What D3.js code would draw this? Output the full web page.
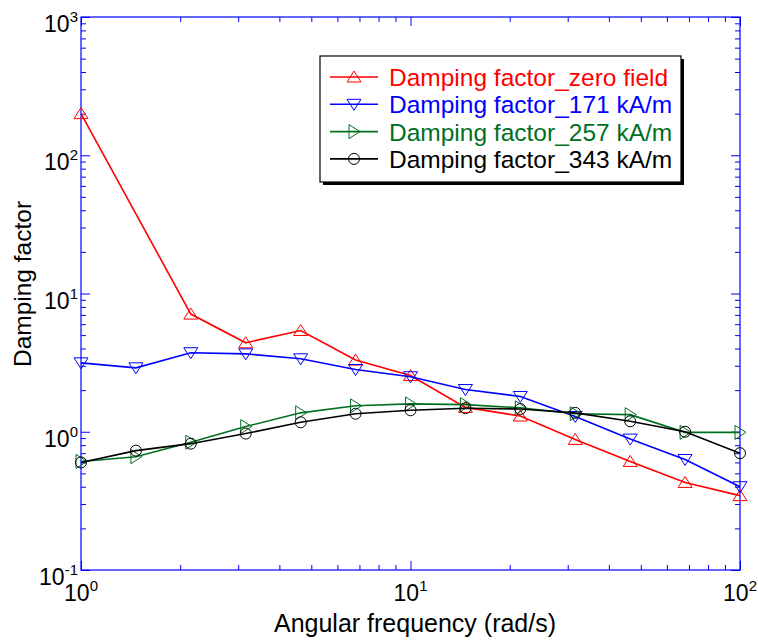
<!DOCTYPE html>
<html>
<head>
<meta charset="utf-8">
<script src="https://cdn.jsdelivr.net/npm/d3@7"></script>
<style>
  html, body { margin: 0; padding: 0; background: #fff; }
  svg { display: block; font-family: Arial, "Liberation Sans", sans-serif; }
</style>
</head>
<body>
<svg id="chart" width="758" height="641"></svg>
<script>
// Angular frequency (rad/s), six points per decade
const frequency = [1, 1.468, 2.154, 3.162, 4.642, 6.813, 10, 14.68, 21.54, 31.62, 46.42, 68.13, 100];

// Damping factor for each applied field
const damp171 = [3.15, 2.9, 3.73, 3.66, 3.37, 2.82, 2.5, 2.02, 1.8, 1.29, 0.885, 0.63, 0.40];
const damp257 = [0.61, 0.66, 0.84, 1.09, 1.37, 1.54, 1.59, 1.57, 1.49, 1.35, 1.33, 0.99, 0.99];
const damp343 = [0.60, 0.73, 0.82, 0.97, 1.17, 1.35, 1.43, 1.48, 1.46, 1.37, 1.19, 1.0, 0.70];

// zero-field series has no point at 1.468 rad/s
const zeroFreq = [1, 2.154, 3.162, 4.642, 6.813, 10, 14.68, 21.54, 31.62, 46.42, 68.13, 100];
const dampZero = [200, 7.1, 4.4, 5.4, 3.3, 2.55, 1.5, 1.3, 0.88, 0.61, 0.43, 0.345];

const seriesNames = [
  "Damping factor_zero field",
  "Damping factor_171 kA/m",
  "Damping factor_257 kA/m",
  "Damping factor_343 kA/m"
];
const seriesColors = ["#ff0000", "#0000ff", "#006f1f", "#000000"];
const seriesMarkers = ["triUp", "triDown", "triRight", "circle"];

const xMajor = [1, 10, 100];
const xMajorExp = ["0", "1", "2"];
const yMajor = [0.1, 1, 10, 100, 1000];
const yMajorExp = ["-1", "0", "1", "2", "3"];
const xLabel = "Angular frequency (rad/s)";
const yLabel = "Damping factor";

const series = [
  { xs: zeroFreq, ys: dampZero },
  { xs: frequency, ys: damp171 },
  { xs: frequency, ys: damp257 },
  { xs: frequency, ys: damp343 }
].map((s, i) => ({
  name: seriesNames[i], color: seriesColors[i], marker: seriesMarkers[i],
  points: s.xs.map((f, j) => ({ f, v: s.ys[j] }))
}));

const svg = d3.select("#chart");
const plotL = 81, plotR = 740, plotT = 17, plotB = 570;

const x = d3.scaleLog().domain([1, 100]).range([plotL, plotR]);
const y = d3.scaleLog().domain([0.1, 1000]).range([plotB, plotT]);

const axisColor = "#0000ff";

// minor ticks (2..9 within each decade)
function minors(domain) {
  const out = [];
  for (let e = Math.log10(domain[0]); e < Math.log10(domain[1]); e++) {
    for (let k = 2; k <= 9; k++) out.push(k * Math.pow(10, e));
  }
  return out;
}
const xMinor = minors([1, 100]);
const yMinor = minors([0.1, 1000]);

function drawAxis(gen, transform, vals, size) {
  const g = svg.append("g").attr("transform", transform)
    .call(gen.tickValues(vals).tickSizeInner(-size).tickSizeOuter(0).tickFormat(""));
  g.select(".domain").remove();
  g.selectAll("line").attr("stroke", axisColor).attr("stroke-width", 1);
  return g;
}

drawAxis(d3.axisBottom(x), `translate(0,${plotB})`, xMajor, 9);
drawAxis(d3.axisBottom(x), `translate(0,${plotB})`, xMinor, 5);
drawAxis(d3.axisTop(x), `translate(0,${plotT})`, xMajor, 9);
drawAxis(d3.axisTop(x), `translate(0,${plotT})`, xMinor, 5);
drawAxis(d3.axisLeft(y), `translate(${plotL},0)`, yMajor, 9);
drawAxis(d3.axisLeft(y), `translate(${plotL},0)`, yMinor, 5);
drawAxis(d3.axisRight(y), `translate(${plotR},0)`, yMajor, 9);
drawAxis(d3.axisRight(y), `translate(${plotR},0)`, yMinor, 5);

// plot box
svg.append("rect")
  .attr("x", plotL).attr("y", plotT)
  .attr("width", plotR - plotL).attr("height", plotB - plotT)
  .attr("fill", "none").attr("stroke", axisColor).attr("stroke-width", 1.2);

// tick labels with superscript exponents
const tickFont = 23, supFont = 15;
xMajor.forEach((v, i) => {
  const t = svg.append("text")
    .attr("x", x(v)).attr("y", plotB + 31)
    .attr("text-anchor", "middle")
    .attr("font-size", tickFont).attr("fill", "#000");
  t.append("tspan").text("10");
  t.append("tspan").attr("dy", -10).attr("font-size", supFont).text(xMajorExp[i]);
});
yMajor.forEach((v, i) => {
  const t = svg.append("text")
    .attr("x", plotL - 3).attr("y", y(v) + 15)
    .attr("text-anchor", "end")
    .attr("font-size", tickFont).attr("fill", "#000");
  t.append("tspan").text("10");
  t.append("tspan").attr("dy", -10).attr("font-size", supFont).text(yMajorExp[i]);
});

// axis titles
svg.append("text")
  .attr("x", 415).attr("y", 632)
  .attr("text-anchor", "middle").attr("font-size", 25)
  .text(xLabel);
svg.append("text")
  .attr("transform", `translate(31,284) rotate(-90)`)
  .attr("text-anchor", "middle").attr("font-size", 24.5)
  .text(yLabel);

// marker shapes
function markerPath(kind) {
  switch (kind) {
    case "triUp": return "M0,-6L7,5L-7,5Z";
    case "triDown": return "M0,6L7,-5L-7,-5Z";
    case "triRight": return "M6,0L-5,-7L-5,7Z";
    default: return null;
  }
}
function drawMarker(g, kind, color) {
  if (kind === "circle") {
    g.append("circle").attr("r", 5.5).attr("fill", "none")
      .attr("stroke", color).attr("stroke-width", 1);
  } else {
    g.append("path").attr("d", markerPath(kind)).attr("fill", "none")
      .attr("stroke", color).attr("stroke-width", 1);
  }
}

const line = d3.line().x(d => x(d.f)).y(d => y(d.v));

series.forEach(s => {
  svg.append("path")
    .datum(s.points)
    .attr("d", line)
    .attr("fill", "none")
    .attr("stroke", s.color)
    .attr("stroke-width", 1.6);
  s.points.forEach(p => {
    const g = svg.append("g").attr("transform", `translate(${x(p.f)},${y(p.v)})`);
    drawMarker(g, s.marker, s.color);
  });
});

// legend
const lg = svg.append("g");
const lgX = 320, lgY = 56, lgW = 361, lgH = 126;
lg.append("rect").attr("x", lgX + 3).attr("y", lgY + 3)
  .attr("width", lgW).attr("height", lgH).attr("fill", "#000");
lg.append("rect").attr("x", lgX).attr("y", lgY)
  .attr("width", lgW).attr("height", lgH)
  .attr("fill", "#fff").attr("stroke", "#000").attr("stroke-width", 1.2);

series.forEach((s, i) => {
  const cy = 77 + i * 27.3;
  lg.append("line").attr("x1", 330).attr("x2", 378)
    .attr("y1", cy).attr("y2", cy)
    .attr("stroke", s.color).attr("stroke-width", 1.6);
  const g = lg.append("g").attr("transform", `translate(354,${cy})`);
  drawMarker(g, s.marker, s.color);
  lg.append("text").attr("x", 389).attr("y", cy + 9)
    .attr("font-size", 24.5).attr("fill", s.color)
    .text(s.name);
});
</script>
</body>
</html>
